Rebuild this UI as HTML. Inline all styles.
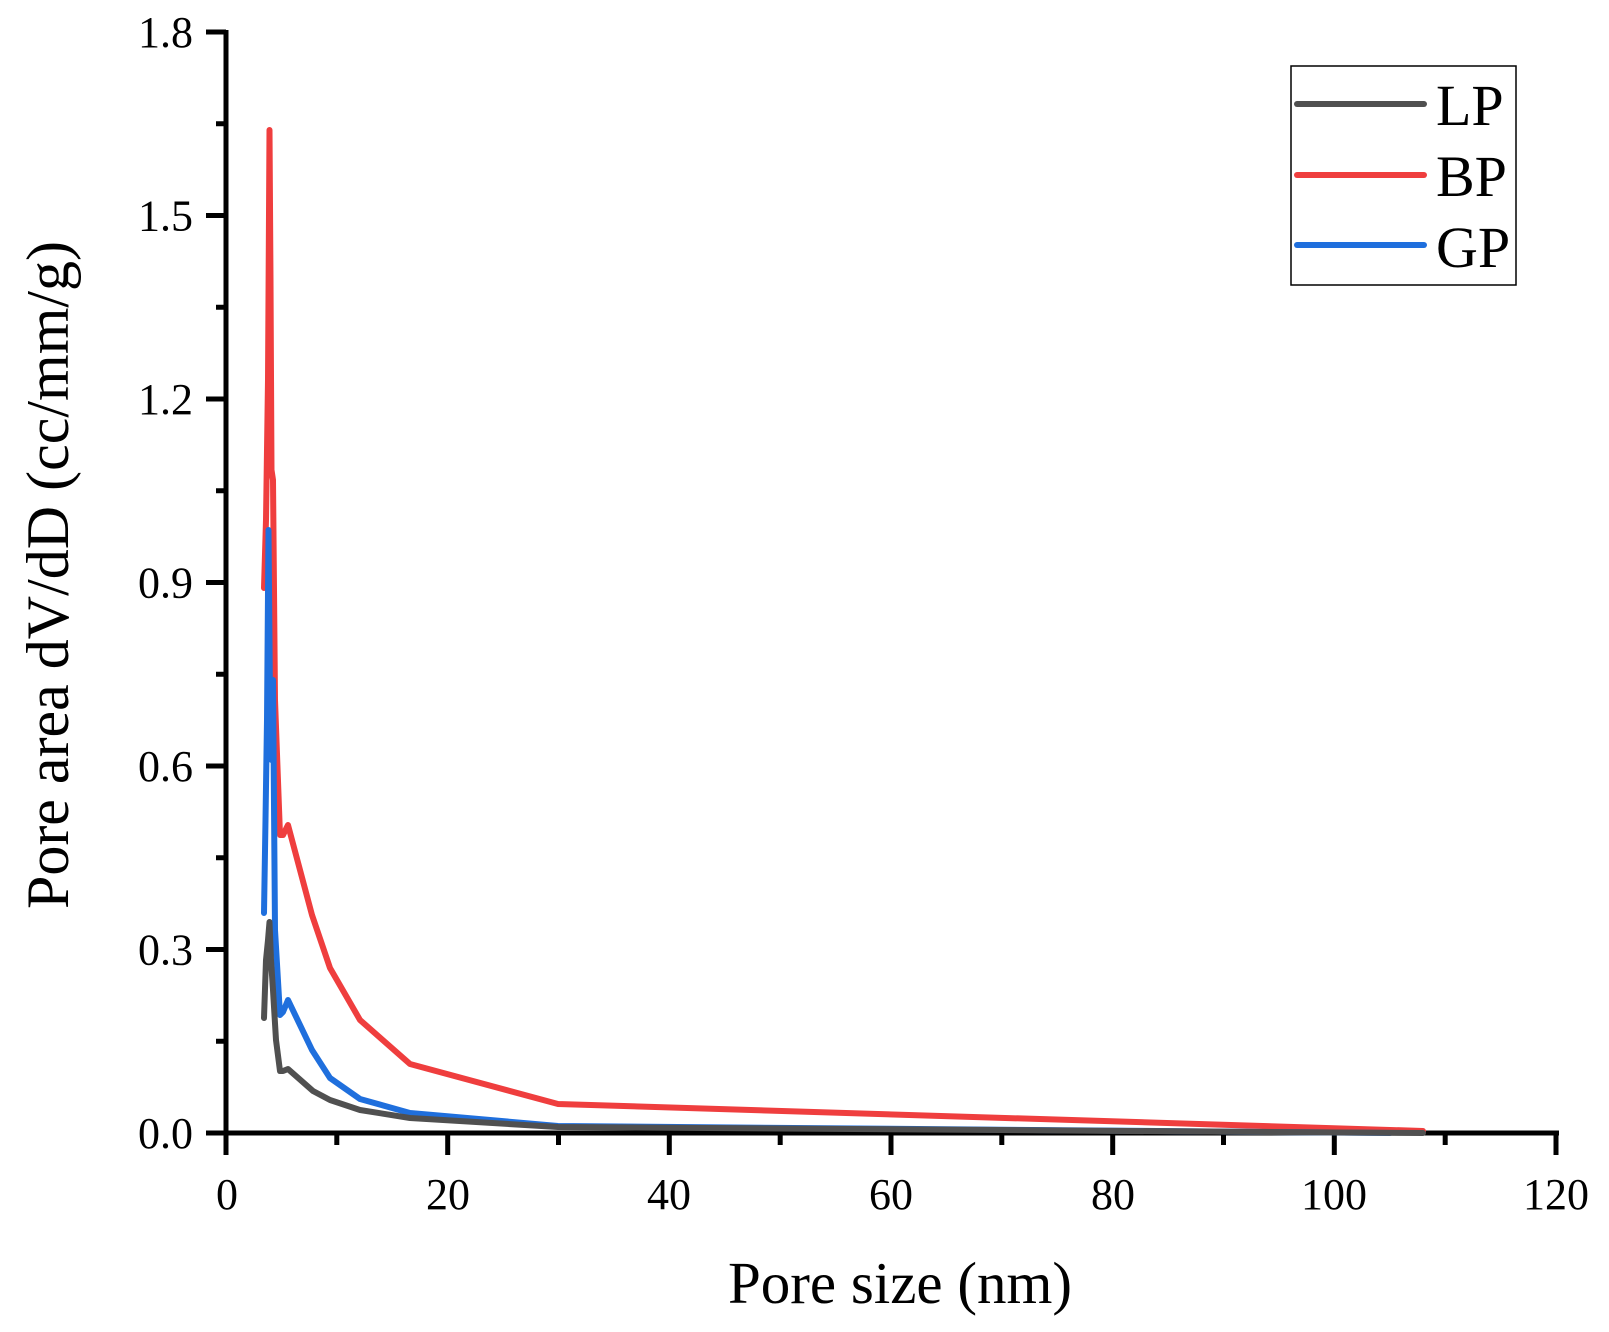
<!DOCTYPE html>
<html><head><meta charset="utf-8"><style>
html,body{margin:0;padding:0;background:#fff;}
svg{display:block;}
text{font-family:"Liberation Serif",serif;fill:#000;}
</style></head><body>
<svg width="1609" height="1332" viewBox="0 0 1609 1332" xmlns="http://www.w3.org/2000/svg">
<g stroke="#000" stroke-width="5" fill="none">
<line x1="226" y1="30" x2="226" y2="1135"/>
<line x1="224" y1="1133" x2="1559" y2="1133"/>
<line x1="206" y1="32" x2="226" y2="32"/>
<line x1="206" y1="215.5" x2="226" y2="215.5"/>
<line x1="206" y1="399" x2="226" y2="399"/>
<line x1="206" y1="582.5" x2="226" y2="582.5"/>
<line x1="206" y1="766" x2="226" y2="766"/>
<line x1="206" y1="949.5" x2="226" y2="949.5"/>
<line x1="206" y1="1133" x2="226" y2="1133"/>
<line x1="216" y1="123.75" x2="226" y2="123.75"/>
<line x1="216" y1="307.25" x2="226" y2="307.25"/>
<line x1="216" y1="490.75" x2="226" y2="490.75"/>
<line x1="216" y1="674.25" x2="226" y2="674.25"/>
<line x1="216" y1="857.75" x2="226" y2="857.75"/>
<line x1="216" y1="1041.25" x2="226" y2="1041.25"/>
<line x1="226" y1="1133" x2="226" y2="1155"/>
<line x1="447.7" y1="1133" x2="447.7" y2="1155"/>
<line x1="669.3" y1="1133" x2="669.3" y2="1155"/>
<line x1="891" y1="1133" x2="891" y2="1155"/>
<line x1="1112.7" y1="1133" x2="1112.7" y2="1155"/>
<line x1="1334.3" y1="1133" x2="1334.3" y2="1155"/>
<line x1="1556" y1="1133" x2="1556" y2="1155"/>
<line x1="336.8" y1="1133" x2="336.8" y2="1145"/>
<line x1="558.5" y1="1133" x2="558.5" y2="1145"/>
<line x1="780.2" y1="1133" x2="780.2" y2="1145"/>
<line x1="1001.8" y1="1133" x2="1001.8" y2="1145"/>
<line x1="1223.5" y1="1133" x2="1223.5" y2="1145"/>
<line x1="1445.2" y1="1133" x2="1445.2" y2="1145"/>
</g>
<g font-size="44" text-anchor="end">
<text x="193" y="47">1.8</text>
<text x="193" y="230.5">1.5</text>
<text x="193" y="414">1.2</text>
<text x="193" y="597.5">0.9</text>
<text x="193" y="781">0.6</text>
<text x="193" y="964.5">0.3</text>
<text x="193" y="1148">0.0</text>
</g>
<g font-size="44" text-anchor="middle">
<text x="227" y="1209">0</text>
<text x="448" y="1209">20</text>
<text x="669" y="1209">40</text>
<text x="891" y="1209">60</text>
<text x="1113" y="1209">80</text>
<text x="1334" y="1209">100</text>
<text x="1556" y="1209">120</text>
</g>
<text x="900" y="1303" font-size="59" text-anchor="middle">Pore size (nm)</text>
<text transform="translate(68,575) rotate(-90)" font-size="60" text-anchor="middle">Pore area dV/dD (cc/mm/g)</text>
<g fill="none" stroke-width="6" stroke-linejoin="round" stroke-linecap="round">
<polyline stroke="#ef3e3e" points="264,588 266,520 268,380 269.5,130 270.5,280 271.5,470 273,480 275,700 280,835 283,835 288,825 312,915 330,968 360,1020 410,1064 558,1104 1423,1131"/>
<polyline stroke="#1f6fdd" points="264,913 265.5,820 267,720 268.5,530 270,700 271.5,760 273,680 275,930 280,1015 283,1012 288,1000 312,1050 330,1078 360,1099 410,1113 558,1126 1390,1133"/>
<polyline stroke="#505050" points="264,1018 266,960 268,940 269.5,922 271,960 273,990 276,1040 280,1071 283,1071 288,1069 313,1091 330,1100 360,1110 410,1118 558,1127 1423,1133"/>
</g>
<rect x="1291" y="66" width="225" height="219" fill="none" stroke="#000" stroke-width="1.5"/>
<g stroke-width="6" stroke-linecap="round">
<line x1="1297" y1="104" x2="1424" y2="104" stroke="#505050"/>
<line x1="1297" y1="175" x2="1424" y2="175" stroke="#ef3e3e"/>
<line x1="1297" y1="245" x2="1424" y2="245" stroke="#1f6fdd"/>
</g>
<g font-size="58">
<text x="1436" y="125">LP</text>
<text x="1436" y="196">BP</text>
<text x="1436" y="267">GP</text>
</g>
</svg>
</body></html>
